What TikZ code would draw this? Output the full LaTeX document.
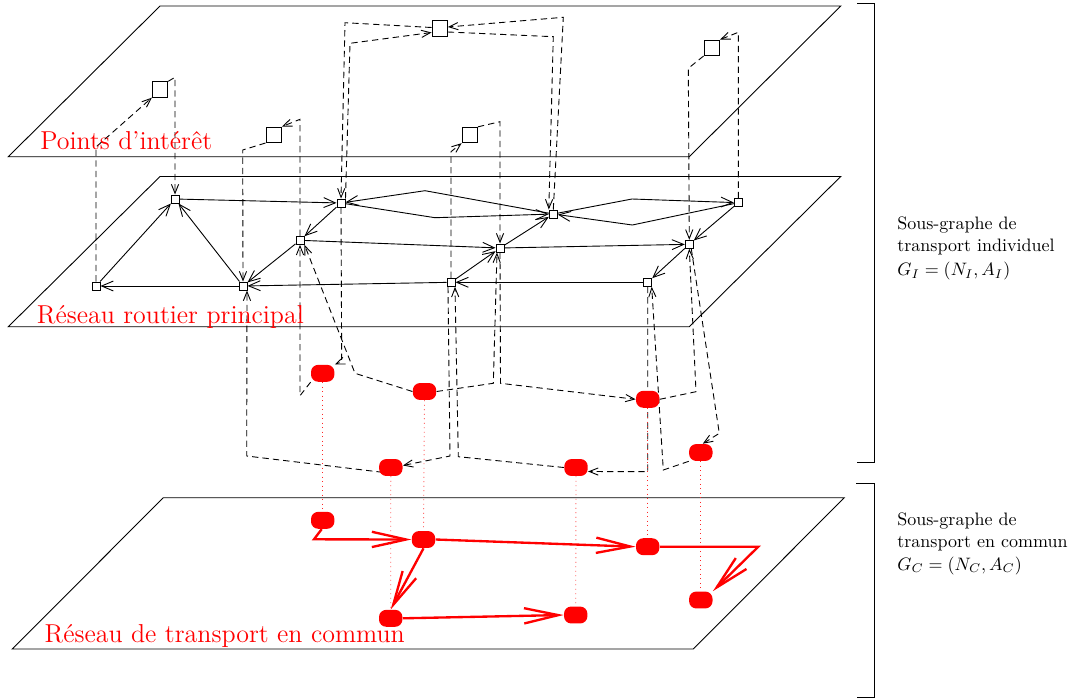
\documentclass[tikz,border=0pt]{standalone}
\usetikzlibrary{arrows.meta,calc,backgrounds}
\begin{document}
\begin{tikzpicture}[x=0.5556pt,y=-0.5556pt,
  plane/.style={line width=0.5pt},
  rn/.style={draw,fill=white,line width=0.5pt,minimum size=4.5pt,inner sep=0pt},
  poi/.style={draw,fill=white,line width=0.5pt,minimum size=8.6pt,inner sep=0pt},
  stop/.style={fill=red,rounded corners=4pt,minimum width=13pt,minimum height=9.4pt,inner sep=0pt},
  road/.style={line width=0.5pt,-{Straight Barb[length=6.5pt,width=5.5pt]}},
  walk/.style={line width=0.5pt,dash pattern=on 3.5pt off 2.3pt,-{Straight Barb[length=5pt,width=4pt]}},
  pt/.style={red,line width=1.3pt,-{Straight Barb[length=19pt,width=8.5pt]}},
  vert/.style={red!85,dotted,line width=0.5pt},
  lab/.style={red,font=\Large,anchor=base west,inner sep=0pt},
  side/.style={anchor=base west,inner sep=0pt},
]
\useasboundingbox (0,0) rectangle (1074,700);

% road network nodes
\node[rn] (A) at (96,286) {};
\node[rn] (B) at (175,199) {};
\node[rn] (C) at (243,286) {};
\node[rn] (D) at (341,203) {};
\node[rn] (E) at (300,240.3) {};
\node[rn] (F) at (553.3,214) {};
\node[rn] (G) at (500,248) {};
\node[rn] (H) at (451,282.3) {};
\node[rn] (I) at (738.3,202.7) {};
\node[rn] (J) at (689.3,244.3) {};
\node[rn] (K) at (647.7,282.3) {};

% points of interest
\node[poi] (P1) at (160,89.5) {};
\node[poi] (P2) at (273.7,134.8) {};
\node[poi] (P3) at (439.7,28.5) {};
\node[poi] (P4) at (469.8,135) {};
\node[poi] (P5) at (711.8,47.8) {};

% stops (upper level)
\node[stop] (S1) at (322.7,373.3) {};
\node[stop] (S2) at (424.5,391.5) {};
\node[stop] (S3) at (390.8,467.5) {};
\node[stop] (S4) at (576,467.5) {};
\node[stop] (S5) at (647.7,399.3) {};
\node[stop] (S6) at (700.8,452.5) {};
% stops (public transport plane)
\node[stop] (T1) at (322.7,520.3) {};
\node[stop] (T2) at (423.5,539.5) {};
\node[stop] (T3) at (390.7,618.3) {};
\node[stop] (T4) at (575.7,615) {};
\node[stop] (T5) at (647.7,546.7) {};
\node[stop] (T6) at (700.8,600) {};

% labels
\node[lab] (lp) at (40,149.3) {Points d'intérêt};
\node[lab] (lr) at (36.5,323) {Réseau routier principal};
\node[lab] (lc) at (44.3,642) {Réseau de transport en commun};

\node[side] (g1a) at (897,229) {Sous-graphe de};
\node[side] (g1b) at (897,251) {transport individuel};
\node[side] (g1c) at (897,275.5) {$G_I=(N_I,A_I)$};
\node[side] (g2a) at (897,525.7) {Sous-graphe de};
\node[side] (g2b) at (897,547.5) {transport en commun};
\node[side] (g2c) at (897,570) {$G_C=(N_C,A_C)$};

\begin{scope}[on background layer]
% planes
\draw[plane] (160,6) -- (840.7,6) -- (689.3,156.7) -- (8.3,156.7) -- cycle;
\draw[plane] (160,176.5) -- (840.7,176.5) -- (689.3,326.7) -- (8.3,326.7) -- cycle;
\draw[plane] (163.3,497.7) -- (844.3,497.7) -- (693.3,649) -- (12.3,649) -- cycle;

% brackets
\draw[line width=0.5pt] (857,3) -- (874.5,3) -- (874.5,462.5) -- (857,462.5);
\draw[line width=0.5pt] (856,483.3) -- (874.5,483.3) -- (874.5,697) -- (857,697);

% road arcs
\draw[road] (C) -- (A);
\draw[road] (A) -- (B);
\draw[road] (C) -- (B);
\draw[road] (B) -- (D);
\draw[road] (D) -- (E);
\draw[road] (E) -- (C);
\draw[road] (H) -- (C);
\draw[road] (E) -- (G);
\draw[road] (G) -- (F);
\draw[road] (H) -- (G);
\draw[road] (K) -- (H);
\draw[road] (J) -- (K);
\draw[road] (I) -- (J);
\draw[road] (G) -- (J);
\draw[road] (F) -- (425,190.7) -- (D);
\draw[road] (D) -- (435,217.7) -- (F);
\draw[road] (F) -- (632,199) -- (I);
\draw[road] (I) -- (632.3,225) -- (F);

% walking arcs to points of interest
\draw[walk] (A.north) -- (96,147) -- (P1.south west);
\draw[walk] (P1.north east) -- (175,77.3) -- (B.north);
\draw[walk] (E.north) -- (300,119.3) -- (P2.north east);
\draw[walk] (P2.south west) -- (242.7,150) -- (C.north);
\draw[walk] (D.north east) -- (350,43.3) -- ($(P3.west)+(0,4)$);
\draw[walk] ($(P3.west)+(0,-1)$) -- (345,22.7) -- (D.north);
\draw[walk] (F.north) -- (563.3,17.3) -- ($(P3.east)+(0,-1.5)$);
\draw[walk] ($(P3.east)+(0,3.5)$) -- (553.3,36.7) -- (F.north west);
\draw[walk] (H.north) -- (451,151.7) -- (P4.south west);
\draw[walk] (P4.north east) -- (500,121.7) -- (G.north);
\draw[walk] (I.north) -- (738.3,32.3) -- (P5.north east);
\draw[walk] (P5.south west) -- (688.3,68.3) -- (J.north);

% walking arcs to stops
\draw[walk] (D.south) -- (341.7,361.7) -- (S1.north east);
\draw[walk] (S1.south west) -- (300,395.7) -- (E.south);
\draw[walk] (S2.west) -- (355,373.3) -- (E.south east);
\draw[walk] (S2.east) -- (493.3,383.3) -- ($(G.south)+(-3,0)$);
\draw[walk] (G.south) -- (500.5,383.3) -- (S5.west);
\draw[walk] (S5.east) -- (696,391.7) -- (J.south);
\draw[walk] ($(J.south)+(2,0)$) -- (719.3,433.3) -- ($(S6.north)+(2,0)$);
\draw[walk] (S6.south west) -- (663.3,470) -- ($(K.south)+(4,0)$);
\draw[walk] (K.south) -- (647.7,471.7) -- ($(S4.east)+(0,4)$);
\draw[walk] (S4.west) -- (458.3,456.7) -- ($(H.south)+(4,0)$);
\draw[walk] ($(H.south)+(-3,0)$) -- (450,456) -- ($(S3.east)+(0,-2)$);
\draw[walk] ($(S3.south west)+(4,-4)$) -- (246.7,456) -- ($(C.south)+(4,0)$);

% vertical correspondences
\draw[vert] (S1.south) -- (T1.north);
\draw[vert] (S2.south) -- (T2.north);
\draw[vert] (S3.south) -- (T3.north);
\draw[vert] (S4.south) -- (T4.north);
\draw[vert] (S5.south) -- (T5.north);
\draw[vert] (S6.south) -- (T6.north);
\end{scope}

% public transport arcs
\draw[pt] ($(T1.south)+(-1,0)$) -- (314,539.3) -- (T2.west);
\draw[pt] (T2.south) -- (T3.north);
\draw[pt] (T3.east) -- (T4.west);
\draw[pt] (T2.east) -- (T5.west);
\draw[pt] (T5.east) -- (758.3,546.7) -- (T6.north east);
\end{tikzpicture}
\end{document}
